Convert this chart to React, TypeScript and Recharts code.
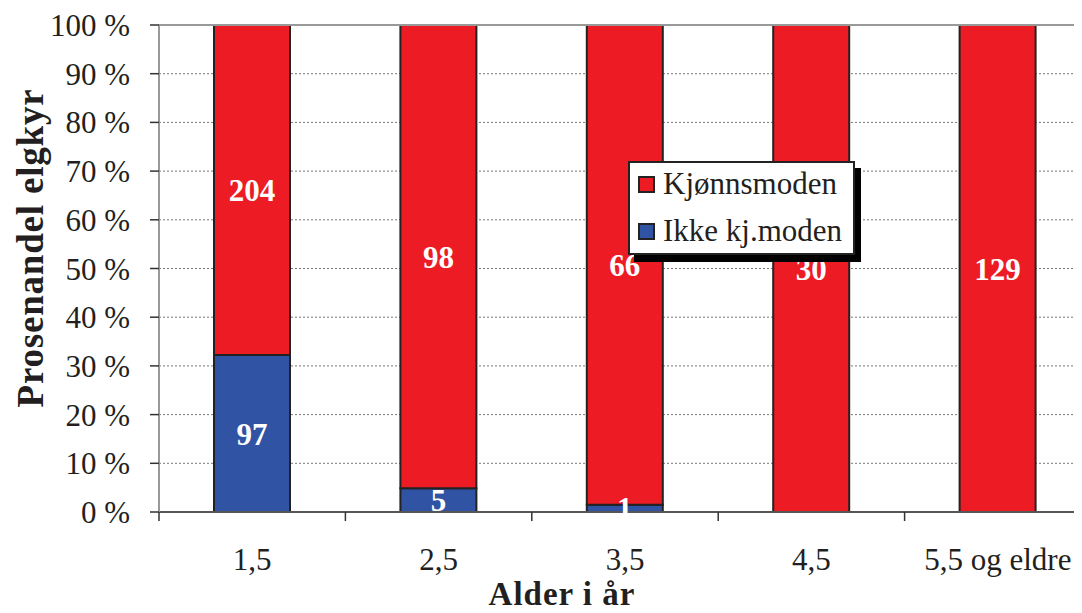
import React from 'react';
import { BarChart, Bar, XAxis, YAxis, CartesianGrid, LabelList, Label, ReferenceLine } from 'recharts';

const ageGroups = ['1,5', '2,5', '3,5', '4,5', '5,5 og eldre'];
const matureCounts = [204, 98, 66, 30, 129];
const immatureCounts = [97, 5, 1, 0, 0];
const yTicks = [0, 0.1, 0.2, 0.3, 0.4, 0.5, 0.6, 0.7, 0.8, 0.9, 1];

const data = ageGroups.map((age, i) => ({
  age,
  ikke: immatureCounts[i],
  moden: matureCounts[i],
}));

const RED = '#ED1C24';
const BLUE = '#3053A4';
const FONT = '"Liberation Serif", "Times New Roman", serif';
const BAND = 932 / 5;

const XTick = (props: any) => {
  const { x, y, payload } = props;
  return (
    <g>
      <line x1={x - BAND / 2} y1={y} x2={x - BAND / 2} y2={y + 9} stroke="#333" strokeWidth={1.5} />
      <text x={x} y={y + 58} textAnchor="middle" fontFamily={FONT} fontSize={31} fill="#231F20">
        {payload.value}
      </text>
    </g>
  );
};

const legendItems = [
  { name: 'Kjønnsmoden', color: RED, cy: 23 },
  { name: 'Ikke kj.moden', color: BLUE, cy: 70 },
];

const LegendBox = () => (
  <div style={{ position: 'absolute', left: 620, top: 153, width: 227, height: 94 }}>
    <div style={{ position: 'absolute', left: 6, top: 7, width: 227, height: 94, background: '#000' }} />
    <div
      style={{
        position: 'absolute',
        left: 0,
        top: 0,
        width: 223,
        height: 90,
        background: '#fff',
        border: '2px solid #222',
        fontFamily: FONT,
        fontSize: 31,
        color: '#231F20',
      }}
    >
      {legendItems.map((it) => (
        <div
          key={it.name}
          style={{ position: 'absolute', left: 8, top: it.cy - 2 - 17, height: 34, display: 'flex', alignItems: 'center', whiteSpace: 'nowrap' }}
        >
          <span style={{ display: 'inline-block', width: 13, height: 13, background: it.color, border: '2px solid #222', marginRight: 8 }} />
          <span style={{ lineHeight: '34px' }}>{it.name}</span>
        </div>
      ))}
    </div>
  </div>
);

const hideZero = (v: any) => (v === 0 ? '' : v);
const barLabelStyle = { fontFamily: FONT, fontWeight: 'bold', fontSize: 31, fill: '#fff' };

export default function App() {
  return (
    <div style={{ width: 1074, height: 605, overflow: 'hidden', position: 'relative' }}>
      <BarChart
        width={1090}
        height={605}
        data={data}
        stackOffset="expand"
        barSize={76}
        margin={{ top: 17, right: 7, left: 0, bottom: 0 }}
      >
        <CartesianGrid vertical={false} stroke="#777" strokeDasharray="2 2" />
        <ReferenceLine y={1} stroke="#999" strokeWidth={2} />
        <XAxis
          dataKey="age"
          height={101}
          tickLine={false}
          tickSize={0}
          tickMargin={0}
          axisLine={{ stroke: '#555', strokeWidth: 2 }}
          tick={<XTick />}
          interval={0}
        >
          <Label
            content={() => (
              <text x={554} y={597} textAnchor="middle" fontFamily={FONT} fontWeight="bold" fontSize={33} letterSpacing={1} fill="#231F20">
                Alder i år
              </text>
            )}
          />
        </XAxis>
        <YAxis
          width={151}
          domain={[0, 1]}
          ticks={yTicks}
          interval={0}
          tickFormatter={(v: number) => `${Math.round(v * 100)} %`}
          tickSize={9}
          tickMargin={20}
          tickLine={{ stroke: '#333', strokeWidth: 1.5 }}
          axisLine={{ stroke: '#999', strokeWidth: 2 }}
          tick={{ fontFamily: FONT, fontSize: 31, fill: '#231F20' }}
        >
          <Label
            content={() => (
              <text
                x={0}
                y={0}
                transform="translate(35, 240) rotate(-90)"
                textAnchor="middle"
                fontFamily={FONT}
                fontWeight="bold"
                fontSize={37}
                letterSpacing={0.8}
                fill="#231F20"
              >
                Prosenandel  elgkyr
              </text>
            )}
          />
        </YAxis>
        <Bar dataKey="ikke" name="Ikke kj.moden" stackId="a" fill={BLUE} stroke="#222" strokeWidth={2} isAnimationActive={false}>
          <LabelList dataKey="ikke" position="center" formatter={hideZero} style={barLabelStyle} />
        </Bar>
        <Bar dataKey="moden" name="Kjønnsmoden" stackId="a" fill={RED} stroke="#222" strokeWidth={2} isAnimationActive={false}>
          <LabelList dataKey="moden" position="center" formatter={hideZero} style={barLabelStyle} />
        </Bar>
      </BarChart>
      <LegendBox />
    </div>
  );
}
